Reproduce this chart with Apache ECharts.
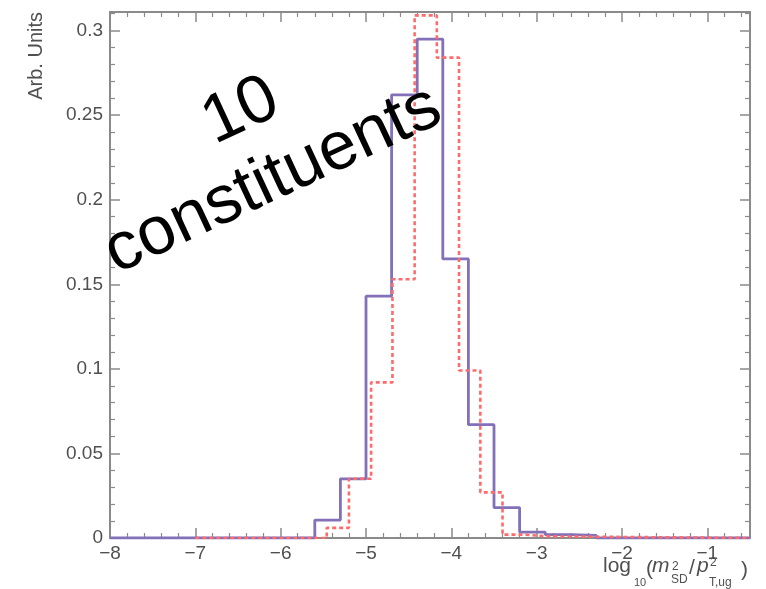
<!DOCTYPE html>
<html>
<head>
<meta charset="utf-8">
<script src="https://cdn.jsdelivr.net/npm/echarts@6/dist/echarts.min.js"></script>
<style>
html,body{margin:0;padding:0;background:#fff;}
#chart{width:766px;height:589px;}
</style>
</head>
<body>
<div id="chart"></div>
<script>
// Solid purple histogram: bin edges and bin contents
const purpleEdges = [-8, -7.7, -7.4, -7.1, -6.8, -6.5, -6.2, -5.9, -5.6, -5.3, -5.0, -4.7, -4.4, -4.1, -3.8, -3.5, -3.2, -2.9, -2.6, -2.3, -0.5];
const purpleValues = [0, 0, 0, 0, 0, 0, 0, 0, 0.0106, 0.035, 0.143, 0.262, 0.295, 0.165, 0.067, 0.018, 0.0035, 0.002, 0.0015, 0];
// Dotted red histogram: bin edges and bin contents
const redEdges = [-7, -5.46, -5.2, -4.94, -4.69, -4.43, -4.17, -3.91, -3.66, -3.4, -3.14, -2.89, -0.5];
const redValues = [0, 0.006, 0.035, 0.092, 0.153, 0.309, 0.284, 0.099, 0.027, 0.002, 0.001, 0];
// Axis tick labels
const xTickLabels = ['-8', '-7', '-6', '-5', '-4', '-3', '-2', '-1'];
const yTickLabels = ['0', '0.05', '0.1', '0.15', '0.2', '0.25', '0.3'];

function histPoints(edges, values) {
  return edges.map((e, i) => [e, values[Math.min(i, values.length - 1)]]);
}

const axisColor = '#8a8a8a';
const labelColor = '#505050';
const font = 'Liberation Sans, Arial, Helvetica, sans-serif';

const chart = echarts.init(document.getElementById('chart'), null, {renderer: 'canvas'});

const xCommon = {
  type: 'value', min: -8, max: -0.5, interval: 1,
  axisLine: {show: true, onZero: false, lineStyle: {color: axisColor, width: 2}},
  axisTick: {show: true, inside: true, length: 10, lineStyle: {color: axisColor, width: 1.5}},
  minorTick: {show: true, splitNumber: 5, length: 5, lineStyle: {color: axisColor, width: 1.2}},
  splitLine: {show: false}
};
const yCommon = {
  type: 'value', min: 0, max: 0.311, interval: 0.05,
  axisLine: {show: true, onZero: false, lineStyle: {color: axisColor, width: 2}},
  axisTick: {show: true, inside: true, length: 10, lineStyle: {color: axisColor, width: 1.5}},
  minorTick: {show: true, splitNumber: 5, length: 5, lineStyle: {color: axisColor, width: 1.2}},
  splitLine: {show: false}
};

function fmtX(v) {
  const r = Math.round(v);
  if (Math.abs(v - r) > 1e-6) return '';
  const s = String(r);
  return xTickLabels.indexOf(s) >= 0 ? s.replace('-', '\u2212') : '';
}
function fmtY(v) {
  const s = String(Math.round(v * 1000) / 1000);
  return yTickLabels.indexOf(s) >= 0 ? s : '';
}

const titleStyle = {fill: labelColor, fontFamily: font};

chart.setOption({
  animation: false,
  backgroundColor: '#fff',
  grid: {left: 110, right: 16, top: 12, bottom: 51, containLabel: false},
  xAxis: [
    Object.assign({}, xCommon, {position: 'bottom',
      axisLabel: {show: true, margin: 6, color: labelColor, fontSize: 19, fontFamily: font, formatter: fmtX, showMaxLabel: false}}),
    Object.assign({}, xCommon, {position: 'top', axisLabel: {show: false}})
  ],
  yAxis: [
    Object.assign({}, yCommon, {position: 'left',
      axisLabel: {show: true, margin: 7, color: labelColor, fontSize: 19, fontFamily: font, formatter: fmtY, showMaxLabel: false}}),
    Object.assign({}, yCommon, {position: 'right', axisLabel: {show: false}})
  ],
  series: [
    {
      type: 'line', xAxisIndex: 0, yAxisIndex: 0, step: 'end', showSymbol: false, symbol: 'none',
      data: histPoints(purpleEdges, purpleValues),
      lineStyle: {color: '#8270b8', width: 2.8}, z: 3
    },
    {
      type: 'line', xAxisIndex: 0, yAxisIndex: 0, step: 'end', showSymbol: false, symbol: 'none',
      data: histPoints(redEdges, redValues),
      lineStyle: {color: '#ff6a6a', width: 2.6, type: [4, 3]}, z: 4
    }
  ],
  graphic: [
    {type: 'text', x: 36, y: 12, rotation: Math.PI / 2,
      style: Object.assign({text: 'Arb. Units', fontSize: 20, textAlign: 'right', textVerticalAlign: 'middle'}, titleStyle)},
    // x axis title: log10(m^2_SD / p^2_T,ug)
    {type: 'text', x: 603, y: 577, style: Object.assign({text: 'log', fontSize: 21, textVerticalAlign: 'bottom'}, titleStyle)},
    {type: 'text', x: 634, y: 588, style: Object.assign({text: '10', fontSize: 11, textVerticalAlign: 'bottom'}, titleStyle)},
    {type: 'text', x: 646, y: 580, style: Object.assign({text: '(', fontSize: 21, textVerticalAlign: 'bottom'}, titleStyle)},
    {type: 'text', x: 652, y: 577, style: Object.assign({text: 'm', fontSize: 21, fontStyle: 'italic', textVerticalAlign: 'bottom'}, titleStyle)},
    {type: 'text', x: 672, y: 573, style: Object.assign({text: '2', fontSize: 12, textVerticalAlign: 'bottom'}, titleStyle)},
    {type: 'text', x: 671, y: 586, style: Object.assign({text: 'SD', fontSize: 12, textVerticalAlign: 'bottom'}, titleStyle)},
    {type: 'text', x: 689, y: 579, style: Object.assign({text: '/', fontSize: 21, textVerticalAlign: 'bottom'}, titleStyle)},
    {type: 'text', x: 697, y: 577, style: Object.assign({text: 'p', fontSize: 21, fontStyle: 'italic', textVerticalAlign: 'bottom'}, titleStyle)},
    {type: 'text', x: 710, y: 569, style: Object.assign({text: '2', fontSize: 12, textVerticalAlign: 'bottom'}, titleStyle)},
    {type: 'text', x: 709, y: 589, style: Object.assign({text: 'T,ug', fontSize: 12, textVerticalAlign: 'bottom'}, titleStyle)},
    {type: 'text', x: 741, y: 581, style: Object.assign({text: ')', fontSize: 21, textVerticalAlign: 'bottom'}, titleStyle)},
    // big annotation
    {type: 'text', x: 257, y: 146, rotation: 25 * Math.PI / 180, z: 10,
      style: {text: '10\nconstituents', fontSize: 68, lineHeight: 76, fontFamily: font, fill: '#000',
        textAlign: 'center', textVerticalAlign: 'middle'}}
  ]
});
</script>
</body>
</html>
